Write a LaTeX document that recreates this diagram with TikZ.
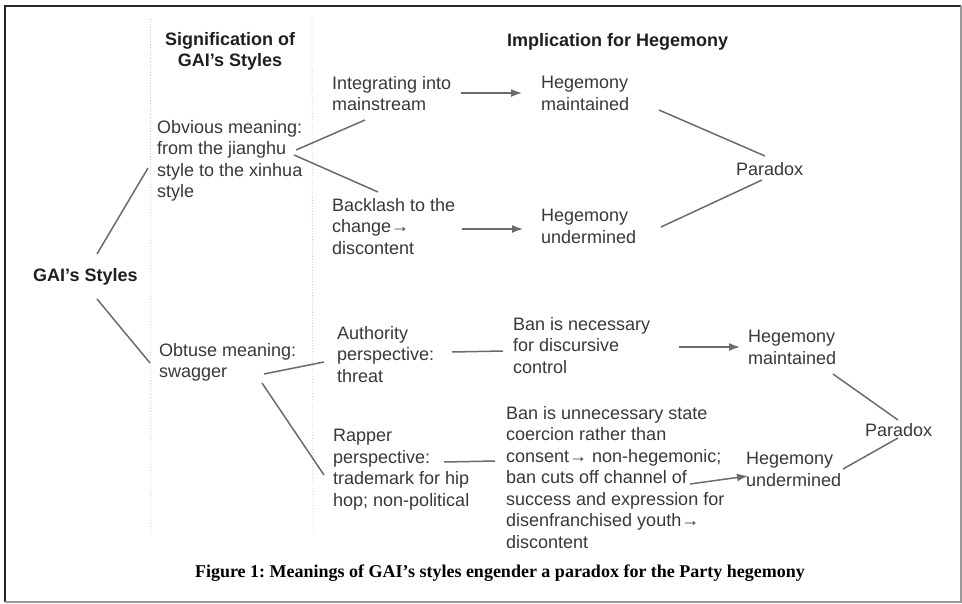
\documentclass[tikz,border=0pt]{standalone}
\usepackage{fontspec}
\setmainfont{Liberation Sans}
\newfontfamily\captionfont{Liberation Serif}
\usetikzlibrary{arrows.meta,calc}
\definecolor{TextClr}{rgb}{0.22,0.22,0.22}
\definecolor{HeadClr}{rgb}{0.12,0.12,0.12}
\definecolor{LineClr}{rgb}{0.42,0.42,0.42}
\definecolor{RuleClr}{rgb}{0.76,0.76,0.76}
\definecolor{FrameClr}{rgb}{0.15,0.15,0.15}
\frenchspacing

\begin{document}
\begin{tikzpicture}[x=1pt,y=-1pt,
  every node/.style={inner sep=0pt,anchor=north west,align=left,text=TextClr,
    font=\fontsize{18}{21.5}\selectfont},
  headtext/.style={text=HeadClr,font=\fontsize{18}{21.5}\selectfont\bfseries},
  link/.style={line width=1.5pt,color=LineClr},
  arr/.style={link,-{Latex[length=11pt,width=8pt]}}]
\useasboundingbox (0,0) rectangle (962,603);

\draw[line width=2.2pt,FrameClr] (5,602) -- (5,6) -- (961,6);
\draw[line width=1.5pt,gray!80] (5,602) -- (961,602) -- (961,6);
\draw[RuleClr,dotted,line width=0.8pt] (150.5,19) -- (151,533) (312,18) -- (313,533);

\node (sig) [headtext,align=center,anchor=north] at (230,32) {Signification of\\GAI’s Styles};
\node (impl) [headtext] at (507,33) {Implication for Hegemony};
\node (gai) [headtext] at (33,268) {GAI’s Styles};

\node (obv) at (157,120) {Obvious meaning:\\from the jianghu\\style to the xinhua\\style};
\node (integ) at (332,76) {Integrating into\\mainstream};
\node (back) at (332,198) {Backlash to the\\change→\\discontent};
\node (hm1) at (541,76) {Hegemony\\maintained};
\node (hu1) at (541,209) {Hegemony\\undermined};
\node (par1) at (736,162) {Paradox};

\node (obt) at (159,343) {Obtuse meaning:\\swagger};
\node (auth) at (337,326) {Authority\\perspective:\\threat};
\node (rap) at (333,429) {Rapper\\perspective:\\trademark for hip\\hop; non-political};
\node (bnec) at (513,317) {Ban is necessary\\for discursive\\control};
\node (bun) at (506,406) {Ban is unnecessary state\\coercion rather than\\consent→ non-hegemonic;\\ban cuts off channel of\\success and expression for\\disenfranchised youth→\\discontent};
\node (hm2) at (748,330) {Hegemony\\maintained};
\node (hu2) at (746,452) {Hegemony\\undermined};
\node (par2) at (865,423) {Paradox};

\node (cap) [anchor=north,text=black,font=\captionfont\bfseries\fontsize{18}{21}\selectfont] at (500,565)
  {Figure 1: Meanings of GAI’s styles engender a paradox for the Party hegemony};

\draw[link] ($(gai.north west)+(64,-14)$) -- ($(obv.north west)+(-9,48)$);
\draw[link] ($(gai.north west)+(64,31)$) -- ($(obt.north west)+(-9,20)$);
\draw[link] ($(obv.north west)+(139,30)$) -- ($(integ.north west)+(33,44)$);
\draw[link] ($(obv.north west)+(137,35)$) -- ($(back.north west)+(46,-6)$);
\draw[arr] ($(integ.north west)+(129,17)$) -- ($(hm1.north west)+(-19,17)$);
\draw[arr] ($(back.north west)+(130,31)$) -- ($(hu1.north west)+(-18,20)$);
\draw[link] ($(hm1.north west)+(118,34)$) -- ($(par1.north west)+(29,-6)$);
\draw[link] ($(hu1.north west)+(120,18)$) -- ($(par1.north west)+(26,18)$);

\draw[link] ($(obt.north west)+(105,31)$) -- ($(auth.north west)+(-13,36)$);
\draw[link] ($(obt.north west)+(103,40)$) -- ($(rap.north west)+(-9,46)$);
\draw[link] ($(auth.north west)+(115,26)$) -- ($(bnec.north west)+(-10,34)$);
\draw[link] ($(rap.north west)+(111,33)$) -- ($(bun.north west)+(-11,55)$);
\draw[arr] ($(bnec.north west)+(166,30)$) -- ($(hm2.north west)+(-8,17)$);
\draw[arr] ($(bun.north west)+(184,78)$) -- ($(hu2.north west)+(2,24)$);
\draw[link] ($(hm2.north west)+(85,44)$) -- ($(par2.north west)+(33,-3)$);
\draw[link] ($(hu2.north west)+(97,17)$) -- ($(par2.north west)+(33,15)$);
\end{tikzpicture}
\end{document}
